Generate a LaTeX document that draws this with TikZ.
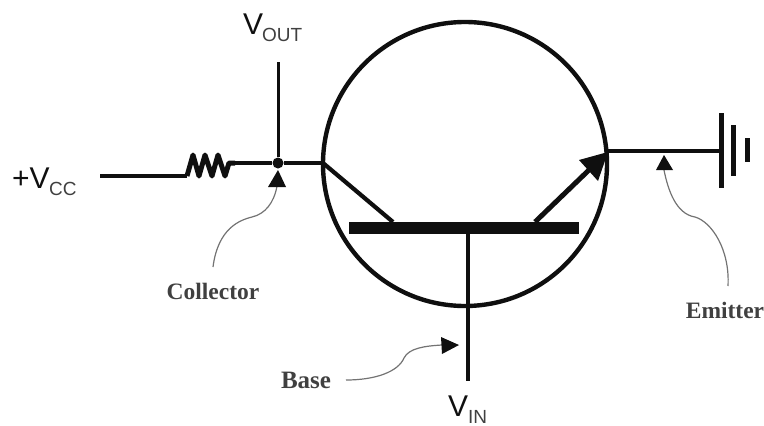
\documentclass[tikz,border=0pt]{standalone}
\usepackage{fontspec}
\setmainfont{Liberation Serif}
\newfontfamily\lsans{Liberation Sans}
\usetikzlibrary{arrows.meta}
\definecolor{ink}{gray}{0.06}
\definecolor{soft}{gray}{0.25}
\tikzset{
  x=1pt,y=-1pt,
  wire/.style={draw=ink,line width=4.2pt,line cap=butt},
  thin wire/.style={draw=ink,line width=3pt},
  ring/.style={draw=ink,line width=4.4pt,circle,minimum size=284pt,inner sep=0pt},
  bar/.style={fill=ink,draw=none,minimum width=230pt,minimum height=12pt,inner sep=0pt},
  dot/.style={fill=ink,circle,minimum size=11pt,inner sep=0pt},
  voltage/.style={font=\lsans\fontsize{30}{30}\selectfont,text=ink,inner sep=0pt,anchor=base west},
  sublabel/.style={font=\lsans\fontsize{19}{19}\selectfont,text=soft,inner sep=0pt,anchor=base west},
  callout/.style={font=\fontsize{23.5}{24}\selectfont\bfseries,text=soft,inner sep=0pt},
  pointer/.style={draw=black!55,line width=1.2pt},
  tip/.style={fill=ink,draw=none},
}
\begin{document}
\begin{tikzpicture}
\useasboundingbox (0,0) rectangle (764,426);
% transistor
\node[ring] (ring) at (465,164) {};
\node[bar] (bar) at (464,228) {};
% junction and terminals
\coordinate (coll) at (323,163);
\coordinate (emit) at (607,151);
\node[dot] (junc) at (278,163) {};
\coordinate (vccend) at (100,176);
\coordinate (resL) at (187,176);
\coordinate (resR) at (235,163);
\coordinate (voutend) at (278,62);
\coordinate (vinend) at (468,381);
\coordinate (gnd) at (721,151);
% wires
\draw[wire] (vccend) -- (resL);
\draw[wire,line join=round,line width=5pt] (resL) -- (193,155) -- (199,176) -- (205,155) -- (212,176) -- (218,155) -- (225,176) -- (229,163) -- (resR);
\draw[wire] (resR) -- (junc);
\draw[wire] (junc) -- (coll);
\draw[thin wire] (voutend) -- (junc);
\draw[wire] (coll) -- (393,222);
\draw[wire] (468,234) -- (vinend);
\draw[wire,line width=5pt] (535,222) -- (590,169);
\draw[tip] (608,152) -- (579,160) -- (598,181) -- cycle;
\draw[wire] (emit) -- (gnd);
% ground
\draw[wire,line width=5pt] (721,113) -- (721,188);
\draw[wire,line width=5pt] (733,125) -- (733,176);
\draw[wire,line width=5pt] (747,138) -- (747,162);
% labels
\node[voltage] (vout) at (243,34) {V};
\node[sublabel] (voutsub) at (262,41) {OUT};
\node[voltage] (vcc) at (12,188) {+V};
\node[sublabel] (vccsub) at (49,195) {CC};
\node[voltage] (vin) at (448,416) {V};
\node[sublabel] (vinsub) at (468,423) {IN};
\node[callout] (collector) at (213,291) {Collector};
\node[callout] (emitter) at (725,310) {Emitter};
\node[callout,font=\fontsize{25}{25}\selectfont\bfseries] (base) at (306,380) {Base};
% pointers
\coordinate (ctip) at (278,170);
\coordinate (etip) at (664,155);
\coordinate (btip) at (459,345);
\draw[pointer] (213,267) .. controls (218,228) and (240,220) .. (252,217) .. controls (265,214) and (274,203) .. (277,186);
\draw[tip] (ctip) -- (268,187) -- (286,187) -- cycle;
\draw[pointer] (664,170) .. controls (668,190) and (676,214) .. (695,217) .. controls (712,222) and (730,250) .. (728,286);
\draw[tip] (etip) -- (656,170) -- (673,170) -- cycle;
\draw[pointer] (346,380) .. controls (375,380) and (398,372) .. (404,358) .. controls (409,348) and (425,346) .. (442,345);
\draw[tip] (btip) -- (441,337) -- (442,354) -- cycle;
\end{tikzpicture}
\end{document}
